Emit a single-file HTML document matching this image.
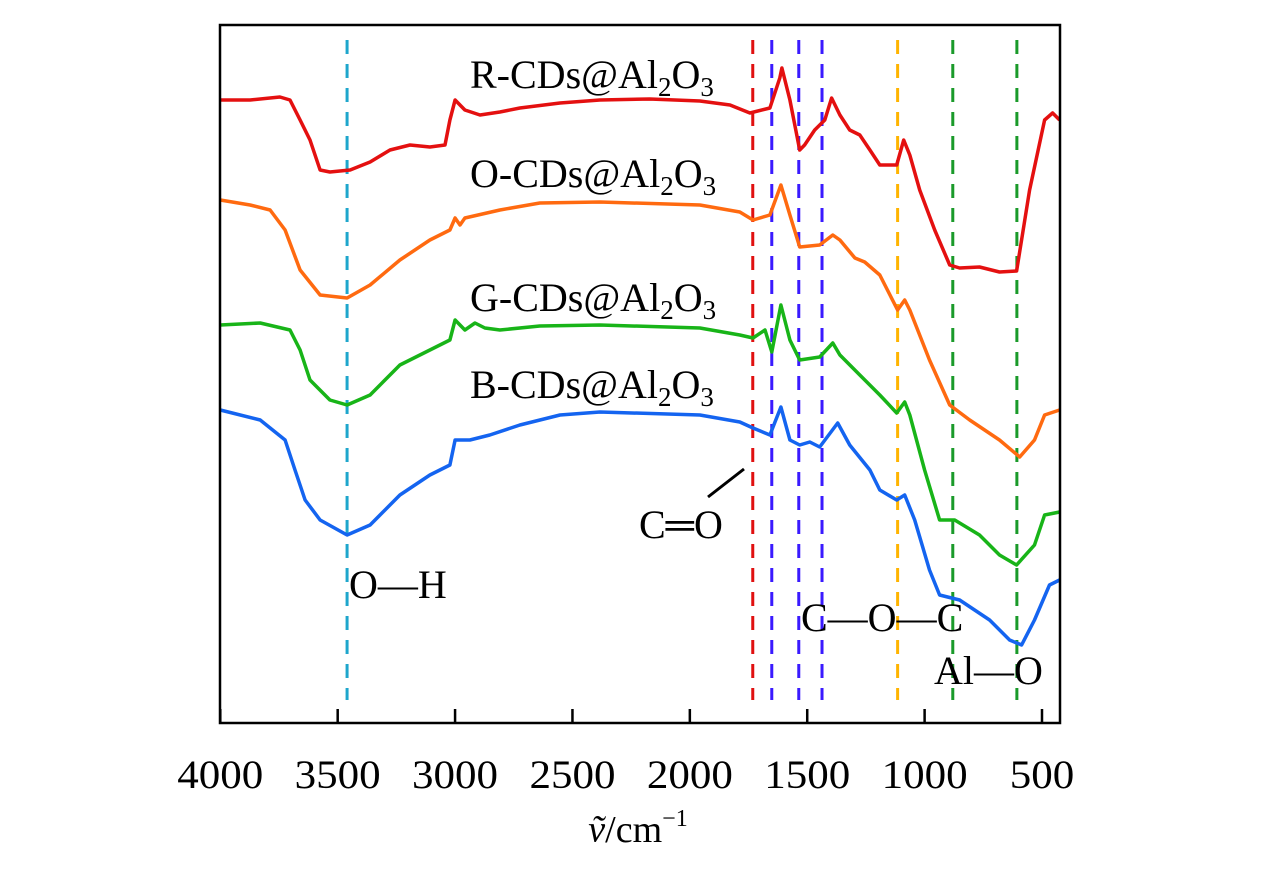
<!DOCTYPE html>
<html><head><meta charset="utf-8"><style>
body{margin:0;background:#fff}
svg text{font-family:"Liberation Serif",serif;fill:#000}
</style></head><body>
<svg id="chart" width="1276" height="866" viewBox="0 0 1276 866" xmlns="http://www.w3.org/2000/svg"></svg>
<script>
const xTicks=[4000,3500,3000,2500,2000,1500,1000,500];
const markerWavenumbers=[3460,1732,1651,1536,1437,1115,880,607];
const markerColors=["#1ea6cc","#e01010","#3a1aff","#3a1aff","#3a1aff","#ffb400","#1a9a2a","#1a9a2a"];
const seriesNames=["R-CDs@Al2O3","O-CDs@Al2O3","G-CDs@Al2O3","B-CDs@Al2O3"];
const redData=[[4000,623],[3873,623],[3746,626],[3703,623],[3660,603],[3618,583],[3575,553],[3533,551],[3447,553],[3362,561],[3277,573],[3192,578],[3107,576],[3043,578],[3022,603],[3000,623],[2958,613],[2894,608],[2809,611],[2724,615],[2553,620],[2383,623],[2170,624],[1957,622],[1829,618],[1744,610],[1659,615],[1617,645],[1608,655],[1574,623],[1532,573],[1511,578],[1468,593],[1425,603],[1396,625],[1361,608],[1319,593],[1276,588],[1233,573],[1191,558],[1161,558],[1119,558],[1089,583],[1063,568],[1021,533],[957,493],[893,458],[851,455],[766,456],[681,451],[608,452],[553,533],[489,603],[455,610],[425,603]];
const orangeData=[[4000,523],[3873,518],[3788,513],[3724,493],[3660,453],[3575,428],[3460,425],[3362,438],[3235,463],[3107,483],[3022,493],[3000,505],[2979,498],[2958,505],[2809,513],[2639,520],[2383,521],[1957,518],[1787,511],[1731,503],[1659,508],[1612,538],[1574,508],[1532,476],[1447,478],[1391,488],[1361,483],[1297,465],[1255,461],[1191,448],[1115,413],[1085,423],[1063,413],[979,363],[893,318],[808,303],[681,283],[595,266],[532,283],[489,308],[425,313]];
const greenData=[[4000,398],[3830,400],[3703,393],[3660,373],[3618,343],[3533,323],[3460,318],[3362,328],[3235,358],[3107,373],[3022,383],[3000,403],[2958,393],[2915,400],[2873,395],[2809,393],[2639,397],[2383,398],[1957,395],[1787,388],[1731,385],[1680,393],[1651,371],[1612,418],[1574,383],[1532,363],[1447,366],[1391,380],[1361,368],[1276,348],[1191,328],[1119,310],[1085,321],[1063,308],[1000,253],[936,203],[872,203],[766,188],[681,168],[608,158],[532,178],[489,208],[425,211]];
const blueData=[[4000,313],[3830,303],[3724,283],[3682,253],[3639,223],[3575,203],[3460,188],[3362,198],[3235,228],[3107,248],[3022,258],[3000,283],[2937,283],[2852,288],[2724,298],[2553,308],[2383,311],[1957,308],[1787,301],[1731,295],[1659,288],[1612,316],[1574,283],[1532,278],[1489,281],[1447,276],[1370,300],[1319,278],[1233,253],[1191,233],[1119,223],[1085,228],[1042,203],[979,153],[936,128],[851,123],[723,103],[638,83],[587,78],[532,103],[468,138],[425,143]];

const svg=document.getElementById('chart');
const NS="http://www.w3.org/2000/svg";
const L=220,R=1060,T=25,B=723;
const xS=v=>220.3+(4000-v)*0.23477;
const yS=v=>B-v;
function mk(tag,attrs,parent){const e=document.createElementNS(NS,tag);for(const k in attrs)e.setAttribute(k,attrs[k]);(parent||svg).appendChild(e);return e;}

markerWavenumbers.forEach((w,i)=>{
  const l=mk('line',{x1:xS(w),x2:xS(w),y1:40,y2:700,stroke:markerColors[i],'stroke-width':3,'stroke-dasharray':'14 10'});
  
  
});
const series=[[redData,"#e41010"],[orangeData,"#ff6a10"],[greenData,"#18b418"],[blueData,"#1464f0"]];
series.forEach(([d,c],i)=>{
  const p=mk('path',{d:d.map((pt,j)=>(j?'L':'M')+xS(pt[0]).toFixed(1)+','+yS(pt[1]).toFixed(1)).join(''),fill:'none',stroke:c,'stroke-width':3.5,'stroke-linejoin':'round'});
  
  
});
const f=mk('rect',{x:L,y:T,width:R-L,height:B-T,fill:'none',stroke:'#000','stroke-width':2.5});


xTicks.forEach(t=>{
  const tk=mk('line',{x1:xS(t),x2:xS(t),y1:B,y2:B-14,stroke:'#000','stroke-width':2.5});
  
  
  const tx=mk('text',{x:xS(t),y:788,'text-anchor':'middle','font-size':40,textLength:String(t).length*21.5,lengthAdjust:'spacingAndGlyphs'});
  tx.textContent=t;
  
  
});
</script>
<script>
const s2=document.getElementById('chart');
s2.insertAdjacentHTML('beforeend',`
<text x="638" y="842" text-anchor="middle" font-size="38"><tspan font-style="italic">ṽ</tspan>/cm<tspan font-size="24" dy="-16">−1</tspan></text>
<g font-size="40">
<text x="470" y="88">R-CDs@Al<tspan font-size="27" dy="8">2</tspan><tspan dy="-8">O</tspan><tspan font-size="27" dy="8">3</tspan></text>
<text x="470" y="187">O-CDs@Al<tspan font-size="27" dy="8">2</tspan><tspan dy="-8">O</tspan><tspan font-size="27" dy="8">3</tspan></text>
<text x="470" y="311">G-CDs@Al<tspan font-size="27" dy="8">2</tspan><tspan dy="-8">O</tspan><tspan font-size="27" dy="8">3</tspan></text>
<text x="470" y="398">B-CDs@Al<tspan font-size="27" dy="8">2</tspan><tspan dy="-8">O</tspan><tspan font-size="27" dy="8">3</tspan></text>
<text x="349" y="598">O—H</text>
<text x="639" y="538">C═O</text>
<text x="801" y="631">C—O—C</text>
<text x="934" y="684">Al—O</text>
</g>
<line x1="708" y1="497" x2="744" y2="469" stroke="#000" stroke-width="3"/>
`);
</script>
</body></html>
